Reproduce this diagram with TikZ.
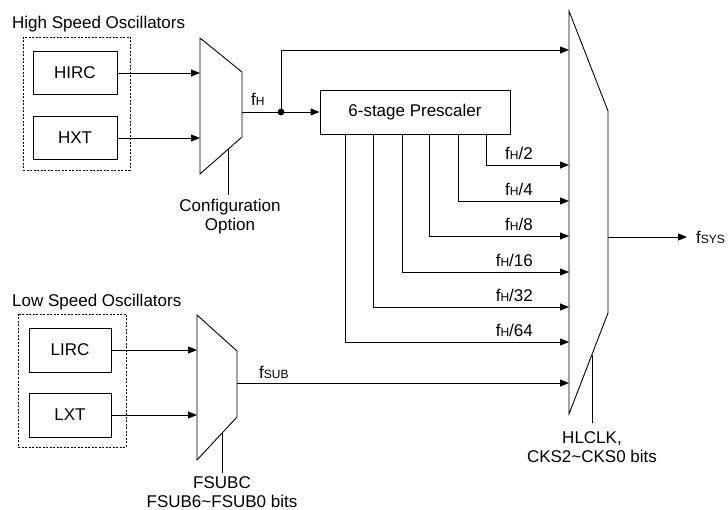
\documentclass[tikz,border=0pt]{standalone}
\usepackage{fontspec}
\setmainfont{Liberation Sans}
\usetikzlibrary{arrows.meta}
\newcommand{\sbs}[1]{{\fontsize{12}{12}\selectfont #1}}
\begin{document}
\begin{tikzpicture}[x=1pt,y=-1pt,
  every node/.style={font=\fontsize{17}{20}\selectfont, inner sep=0pt},
  ln/.style={line width=0.9pt},
  arr/.style={ln,-{Triangle[length=9pt,width=7pt]}},
  osc/.style={draw,ln,minimum width=84pt,minimum height=43pt},
  grp/.style={line width=0.8pt,dash pattern=on 2pt off 1.5pt},
  mux/.style={ln,line join=miter},
  lbl/.style={anchor=base east},
  note/.style={align=center,anchor=north,font=\fontsize{17}{19}\selectfont}]
\useasboundingbox (0,0) rectangle (728,510);

% ---------- high speed ----------
\node[anchor=base west] (hsl) at (12,29) {High Speed Oscillators};
\draw[grp] (23,37) rectangle (130,170);
\node[osc] (hirc) at (75,73) {HIRC};
\node[osc] (hxt) at (75,138) {HXT};

\coordinate (m1a) at (200,38);
\coordinate (m1b) at (242,72);
\coordinate (m1c) at (242,137);
\coordinate (m1d) at (200,174);
\draw[mux] (m1a) -- (m1b) -- (m1c) -- (m1d) -- cycle;
\draw[arr] (hirc.east) -- (hirc.east -| m1a);
\draw[arr] (hxt.east) -- (hxt.east -| m1a);

\coordinate (m1o) at (242,112);
\coordinate (dot) at (281,112);
\node[anchor=base west] (fh) at (251,106) {f\sbs{H}};
\fill (dot) circle (3.4pt);

% config option
\coordinate (cfgtop) at (228,149.5);
\coordinate (cfgbot) at (228,195);
\node[note] (cfg) at (230,198.5) {Configuration\\Option};
\draw[ln] (cfgtop) -- (cfgbot);

% ---------- big mux ----------
\coordinate (bma) at (569,11);
\coordinate (bmb) at (608,111);
\coordinate (bmc) at (608,313);
\coordinate (bmd) at (569,414);
\draw[mux] (bma) -- (bmb) -- (bmc) -- (bmd) -- cycle;

% prescaler
\node[draw,ln,minimum width=190pt,minimum height=44pt] (pre) at (415,112) {6-stage Prescaler};
\draw[ln] (m1o) -- (dot);
\draw[arr] (dot) -- (pre.west);
\coordinate (up) at (281,50);
\draw[arr] (dot) -- (up) -- (up -| bma);

\foreach \xx/\yy/\tt in {486/165/2, 458/201/4, 429/236/8, 402/272/16, 373/307/32, 345/342/64}{
  \coordinate (t) at (\xx,\yy);
  \draw[arr] (t |- pre.south) -- (t) -- (t -| bma);
  \node[lbl] at (533,\yy-5) {f\sbs{H}/\tt};
}

% output
\coordinate (bmo) at (608,237);
\node[anchor=west] (fsys) at (696,237) {f\sbs{SYS}};
\draw[arr] (bmo) -- (687,237);

% HLCLK
\coordinate (hltop) at (592,355);
\coordinate (hlbot) at (592,423);
\node[note] (hl) at (592,431) {HLCLK,\\CKS2\textasciitilde CKS0 bits};
\draw[ln] (hltop) -- (hlbot);

% ---------- low speed ----------
\node[anchor=base west] (lsl) at (12,307) {Low Speed Oscillators};
\draw[grp] (18,314) rectangle (126,447);
\node[osc,minimum width=82pt,minimum height=44pt] (lirc) at (70,350) {LIRC};
\node[osc,minimum width=82pt,minimum height=44pt] (lxt) at (70,415) {LXT};

\coordinate (m2a) at (197,315);
\coordinate (m2b) at (237,351);
\coordinate (m2c) at (237,417);
\coordinate (m2d) at (197,460);
\draw[mux] (m2a) -- (m2b) -- (m2c) -- (m2d) -- cycle;
\draw[arr] (lirc.east) -- (lirc.east -| m2a);
\draw[arr] (lxt.east) -- (lxt.east -| m2a);

\coordinate (m2o) at (237,383);
\draw[arr] (m2o) -- (m2o -| bma);
\node[anchor=base west] (fsub) at (259,378) {f\sbs{SUB}};

\coordinate (fstop) at (222,433);
\coordinate (fsbot) at (222,473);
\node[note] (fsc) at (222,476.5) {FSUBC\\FSUB6\textasciitilde FSUB0 bits};
\draw[ln] (fstop) -- (fsbot);
\end{tikzpicture}
\end{document}
